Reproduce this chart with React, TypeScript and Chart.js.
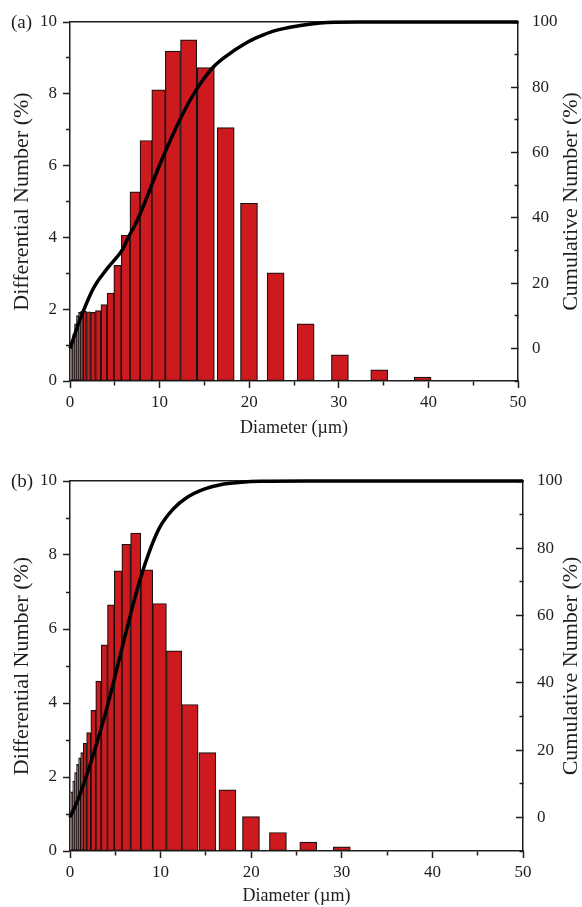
import React, { useEffect, useRef } from 'react';
import { Chart, registerables } from 'chart.js';

Chart.register(...registerables);

// ---- data ----
const binCenters = [0.2, 0.4, 0.61, 0.835, 1.065, 1.305, 1.625, 2.045, 2.555, 3.13, 3.775, 4.5, 5.28, 6.17, 7.21, 8.42, 9.835, 11.45, 13.215, 15.065, 17.3, 19.85, 22.9, 26.15, 30.0, 34.35, 39.35];

const diffA = [0.98, 1.31, 1.59, 1.82, 1.91, 1.94, 1.94, 1.93, 1.91, 1.96, 2.13, 2.45, 3.22, 4.06, 5.27, 6.70, 8.11, 9.19, 9.50, 8.73, 7.06, 4.95, 3.01, 1.59, 0.73, 0.31, 0.11];
const diffB = [1.6, 1.89, 2.12, 2.34, 2.52, 2.66, 2.91, 3.20, 3.80, 4.59, 5.57, 6.65, 7.57, 8.29, 8.59, 7.60, 6.69, 5.41, 3.96, 2.66, 1.65, 0.93, 0.50, 0.24, 0.11];

const cumAx = [0, 0.5, 1.0, 1.5, 2.0, 2.5, 3.0, 3.6, 4.3, 5.0, 5.8, 6.6, 7.3, 8.4, 9.9, 11.4, 12.9, 14.4, 16.0, 17.4, 19.6, 21.1, 22.7, 25.7, 27.9, 32, 50];
const cumAy = [0, 4, 8, 11.5, 14.8, 17.8, 20.2, 22.5, 25, 27.2, 30, 34.5, 38, 45, 55.5, 65, 73.5, 80.5, 86.2, 89.5, 93.5, 95.5, 97.2, 98.9, 99.7, 100, 100];

const cumBx = [0, 1.0, 2.5, 4.0, 5.5, 6.6, 7.7, 8.8, 9.9, 11.4, 12.9, 14.8, 16.6, 18.9, 21.1, 26, 50];
const cumBy = [0, 6.1, 18, 31.8, 47.7, 59.5, 70.4, 79.3, 86.2, 91.7, 95.1, 97.6, 98.9, 99.6, 99.9, 100, 100];

const xLabel = 'Diameter (µm)';
const yLeftLabel = 'Differential Number (%)';
const yRightLabel = 'Cumulative Number (%)';

// ---- style ----
const FONT = 'Liberation Serif';
const INK = '#1e1e1e';
const BAR_FILL = '#CC1A1F';
const BAR_EDGE = '#1c1010';
const TICK_SIZE = 17;
const XTITLE_SIZE = 18;
const YTITLE_SIZE = 22;

type PanelProps = {
  label: string;
  diff: number[];
  cumX: number[];
  cumY: number[];
  top: number;
  height: number;
  plotTop: number;
  xAxisHeight: number;
  rightWidth: number;
  titlePad: number;
};

function annotate(label: string) {
  return {
    id: 'annot',
    afterDraw(chart: any) {
      const { ctx, chartArea } = chart;
      ctx.save();
      ctx.fillStyle = INK;
      ctx.font = `19px "${FONT}"`;
      ctx.textBaseline = 'middle';
      ctx.textAlign = 'left';
      ctx.fillText(label, 11, chartArea.top + 1);
      ctx.font = `${YTITLE_SIZE}px "${FONT}"`;
      ctx.translate(chart.width - 11, (chartArea.top + chartArea.bottom) / 2);
      ctx.rotate(-Math.PI / 2);
      ctx.textAlign = 'center';
      ctx.fillText(yRightLabel, 0, 0);
      ctx.restore();
    },
  };
}

const trimPad = (s: any) => { s.paddingTop = 10; s.paddingBottom = 10; };

function makeConfig(p: PanelProps): any {
  const n = p.diff.length;
  return {
    type: 'bar',
    data: {
      datasets: [
        {
          type: 'line',
          data: p.cumX.map((x, i) => ({ x, y: p.cumY[i] })),
          xAxisID: 'x',
          yAxisID: 'y2',
          borderColor: '#000',
          borderWidth: 3.5,
          pointRadius: 0,
          tension: 0.4,
          cubicInterpolationMode: 'monotone',
          fill: false,
          clip: false,
          order: 0,
        },
        {
          type: 'bar',
          data: binCenters.slice(0, n).map((x, i) => ({ x, y: p.diff[i] })),
          xAxisID: 'x',
          yAxisID: 'y',
          backgroundColor: BAR_FILL,
          borderColor: BAR_EDGE,
          borderWidth: 1.2,
          borderSkipped: false,
          barThickness: 'flex',
          categoryPercentage: 1,
          barPercentage: 1,
          maxBarThickness: 17,
          order: 1,
        },
      ],
    },
    options: {
      responsive: false,
      maintainAspectRatio: false,
      animation: false,
      layout: { padding: 0 },
      plugins: { legend: { display: false }, tooltip: { enabled: false } },
      scales: {
        x: {
          type: 'linear',
          position: 'bottom',
          min: 0,
          max: 50,
          offset: false,
          afterFit: (s: any) => { s.height = p.xAxisHeight; },
          ticks: {
            stepSize: 5,
            autoSkip: false,
            maxRotation: 0,
            padding: 4,
            color: INK,
            font: { family: FONT, size: TICK_SIZE },
            callback: (v: number) => (v % 10 === 0 ? String(v) : ''),
          },
          grid: {
            drawOnChartArea: false,
            offset: false,
            drawTicks: true,
            tickLength: 7,
            tickWidth: 1.5,
            tickColor: INK,
            tickBorderDash: (ctx: any) => (ctx.tick && ctx.tick.value % 10 !== 0 ? [4, 100] : []),
          },
          border: { display: true, color: INK, width: 1.5 },
          title: {
            display: true,
            text: xLabel,
            color: INK,
            font: { family: FONT, size: XTITLE_SIZE },
            padding: { top: 0, bottom: p.titlePad },
          },
        },
        xTop: {
          type: 'linear',
          position: 'top',
          min: 0,
          max: 50,
          offset: false,
          afterFit: (s: any) => { s.height = p.plotTop; },
          ticks: { display: false },
          grid: { drawOnChartArea: false, drawTicks: false, offset: false },
          border: { display: true, color: INK, width: 1.5 },
        },
        y: {
          type: 'linear',
          position: 'left',
          min: 0,
          max: 10,
          afterFit: (s: any) => { s.width = 70; trimPad(s); },
          ticks: {
            stepSize: 1,
            autoSkip: false,
            padding: 6,
            color: INK,
            font: { family: FONT, size: TICK_SIZE },
            callback: (v: number) => (v % 2 === 0 ? String(v) : ''),
          },
          grid: {
            drawOnChartArea: false,
            drawTicks: true,
            tickLength: 7,
            tickWidth: 1.5,
            tickColor: INK,
            tickBorderDash: (ctx: any) => (ctx.tick && ctx.tick.value % 2 !== 0 ? [0, 3, 4, 100] : []),
          },
          border: { display: true, color: INK, width: 1.5 },
          title: {
            display: true,
            text: yLeftLabel,
            color: INK,
            font: { family: FONT, size: YTITLE_SIZE },
            padding: { top: 9, bottom: 0 },
          },
        },
        y2: {
          type: 'linear',
          position: 'right',
          min: -10,
          max: 100,
          afterFit: (s: any) => { s.width = p.rightWidth; trimPad(s); },
          ticks: {
            stepSize: 10,
            autoSkip: false,
            padding: 21,
            color: INK,
            font: { family: FONT, size: TICK_SIZE },
            callback: (v: number) => (v >= 0 && v % 20 === 0 ? String(v) : ''),
          },
          grid: {
            drawOnChartArea: false,
            drawTicks: true,
            tickLength: -7,
            tickWidth: 1.5,
            tickColor: INK,
            tickBorderDash: (ctx: any) => (ctx.tick && ctx.tick.value % 20 !== 0 ? [4, 100] : []),
          },
          border: { display: true, color: INK, width: 1.5 },
        },
      },
    },
    plugins: [annotate(p.label)],
  };
}

function Panel(props: PanelProps) {
  const ref = useRef<HTMLCanvasElement>(null);
  useEffect(() => {
    if (!ref.current) return;
    const chart = new Chart(ref.current, makeConfig(props));
    return () => chart.destroy();
  }, []);
  return (
    <div style={{ position: 'absolute', left: 0, top: props.top, width: 582, height: props.height }}>
      <canvas ref={ref} width={582} height={props.height} style={{ width: 582, height: props.height, display: 'block' }} />
    </div>
  );
}

export default function App() {
  return (
    <div style={{ position: 'absolute', left: 0, top: 0, width: 582, height: 907, background: '#fff', overflow: 'hidden' }}>
      <Panel label="(a)" diff={diffA} cumX={cumAx} cumY={cumAy} top={0} height={453} plotTop={22} xAxisHeight={72} rightWidth={64} titlePad={14} />
      <Panel label="(b)" diff={diffB} cumX={cumBx} cumY={cumBy} top={453} height={454} plotTop={28} xAxisHeight={56} rightWidth={59} titlePad={0} />
    </div>
  );
}
